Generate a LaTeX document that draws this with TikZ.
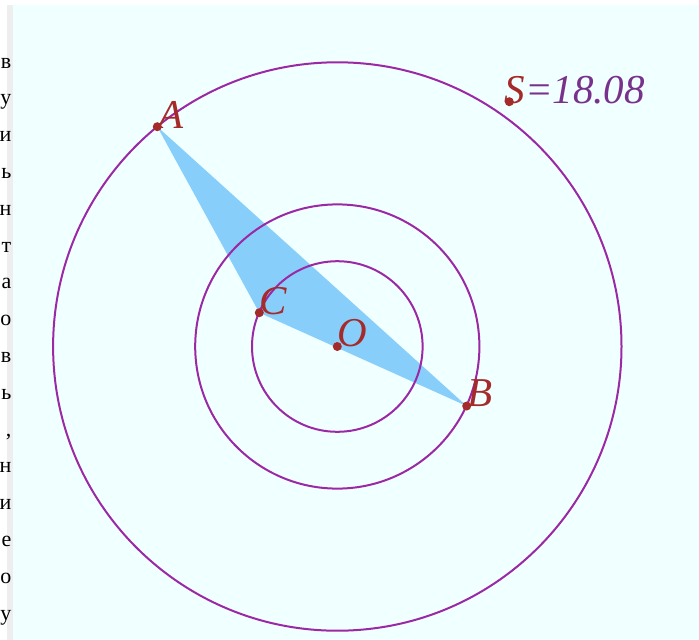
\documentclass[tikz,border=0pt]{standalone}
\usepackage{fontspec}
\setmainfont{Liberation Serif}
\usetikzlibrary{calc}
\definecolor{bgc}{RGB}{240,255,255}
\definecolor{stripc}{RGB}{238,238,238}
\definecolor{ptc}{RGB}{165,42,42}
\definecolor{circc}{RGB}{155,40,165}
\definecolor{fillc}{RGB}{135,206,250}
\definecolor{valc}{RGB}{120,50,140}
\tikzset{
  ring/.style={draw=circc, line width=2pt},
  pt/.style={circle, fill=ptc, inner sep=0pt, minimum size=9pt},
  lbl/.style={anchor=base west, inner sep=0pt, text=ptc, font=\fontsize{41}{44}\selectfont\itshape},
  margtxt/.style={anchor=base east, inner sep=0pt, font=\fontsize{22}{24}\selectfont}
}
\begin{document}
\begin{tikzpicture}[x=1pt,y=-1pt]
\useasboundingbox (0,0) rectangle (699,640);
\fill[white] (0,0) rectangle (699,640);
\fill[stripc] (7.3,4.7) rectangle (13.3,640);
\fill[bgc] (13.3,4.7) rectangle (699,640);
% margin letters
\foreach \ch [count=\i from 0] in {в,у,и,ь,н,т,а,о,в,ь,{,},н,и,е,о,у}
  \node[margtxt] (m\i) at (11.5,68+36.8*\i) {\ch};
% points
\coordinate (O) at (337.3,346.5);
\coordinate (A) at (157.3,126.7);
\coordinate (B) at (466.7,406);
\coordinate (C) at (259.3,312.7);
\coordinate (S) at (509.3,101.7);
\fill[fillc] (A) -- (B) -- (C) -- cycle;
\draw[ring] (O) circle[radius=284.2];
\draw[ring] (O) circle[radius=142.1];
\draw[ring] (O) circle[radius=85.3];
\node[pt] (pA) at (A) {};
\node[pt] (pB) at (B) {};
\node[pt] (pC) at (C) {};
\node[pt] (pO) at (O) {};
\node[pt] (pS) at (S) {};
\node[lbl] (lA) at ($(A)+(1,2)$) {A};
\node[lbl] (lB) at ($(B)+(1,0)$) {B};
\node[lbl] (lC) at ($(C)+(0,2)$) {C};
\node[lbl] (lO) at ($(O)+(0,0)$) {O};
\node[lbl] (lS) at ($(S)+(-5,1.5)$) {S\textcolor{valc}{=18.08}};
\end{tikzpicture}
\end{document}
